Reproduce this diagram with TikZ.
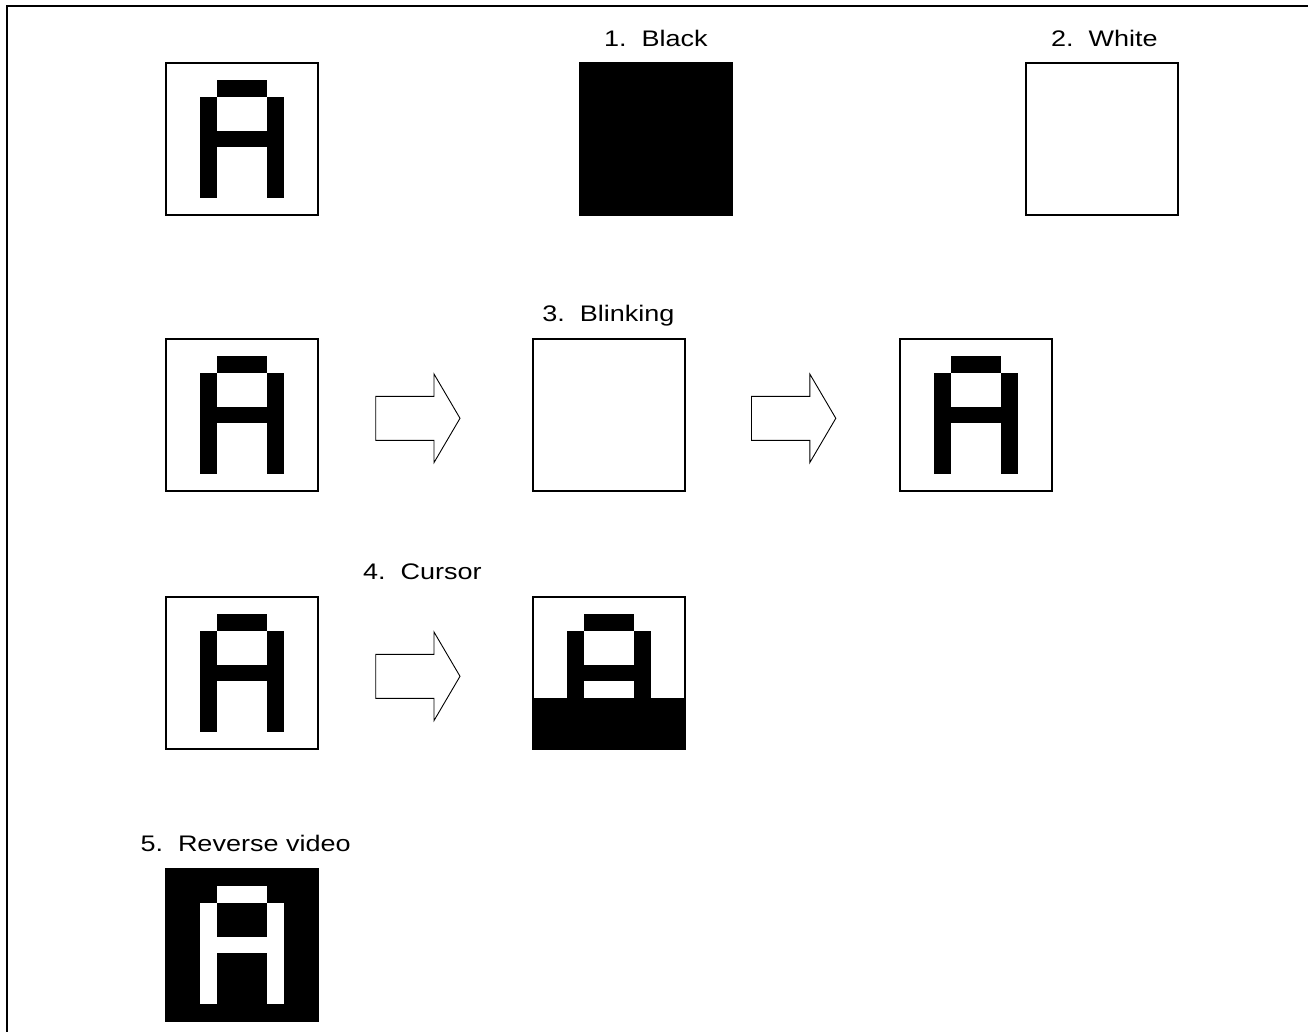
\documentclass[tikz,border=0pt]{standalone}
\usepackage{fontspec}
\newfontfamily\lab[FakeStretch=1.2]{Liberation Sans}
\begin{document}
\begin{tikzpicture}[x=1pt,y=-1pt,
  screen/.style={draw=black,line width=1.4pt,fill=white,minimum size=152pt,inner sep=0pt,outer sep=0pt},
  blackscreen/.style={screen,fill=black},
  label/.style={anchor=base west,inner sep=0pt,font=\lab\fontsize{22.5}{27}\selectfont},
  blockarrow/.style={draw=black,line width=0.9pt,fill=white,line join=miter}]
\useasboundingbox (0,0) rectangle (1308,1032);
\def\px{16.89}
% glyph A drawn in the 9x9 pixel grid of a screen node
\newcommand\glyphA[2]{%
  \begin{scope}[shift={(#1.north west)}]
    \fill[#2] (3*\px,1*\px) rectangle (6*\px,2*\px);
    \fill[#2] (2*\px,2*\px) rectangle (3*\px,8*\px);
    \fill[#2] (6*\px,2*\px) rectangle (7*\px,8*\px);
    \fill[#2] (3*\px,4*\px) rectangle (6*\px,5*\px);
  \end{scope}}
\newcommand\barrow[1]{%
  \draw[blockarrow] ([yshift=22pt]#1) -- ++(58.3,0) -- ++(0,-22.3) -- ++(26,44.3)
     -- ++(-26,44.3) -- ++(0,-22.3) -- ++(-58.3,0) -- cycle;}
% frame
\draw[line width=1.3pt] (7,1032) -- (7,6) -- (1308,6);
% row 1
\node[screen] (a1) at (242,139) {};
\glyphA{a1}{black}
\node[blackscreen] (blk) at (656,139) {};
\node[screen] (wht) at (1102,139) {};
\node[label] (t1) at (603.8,46.7) {1.~~Black};
\node[label] (t2) at (1050.9,46.7) {2.~~White};
% row 2
\node[screen] (a2) at (242,415) {};
\glyphA{a2}{black}
\node[screen] (blink) at (609,415) {};
\node[screen] (a3) at (976,415) {};
\glyphA{a3}{black}
\coordinate (ar1) at (375.7,418.3);
\coordinate (ar2) at (751.5,418.3);
\barrow{ar1}
\barrow{ar2}
\node[label] (t3) at (542.2,321) {3.~~Blinking};
% row 3
\node[screen] (a4) at (242,673) {};
\glyphA{a4}{black}
\node[screen] (cur) at (609,673) {};
\glyphA{cur}{black}
\fill[black] ([yshift=-6*\px pt]cur.north west) rectangle (cur.south east);
\draw[line width=1.4pt] (cur.north west) rectangle (cur.south east);
\coordinate (ar3) at (375.7,676.3);
\barrow{ar3}
\node[label] (t4) at (363,579) {4.~~Cursor};
% row 4
\node[blackscreen] (rev) at (242,945) {};
\glyphA{rev}{white}
\node[label] (t5) at (140.3,851.7) {5.~~Reverse video};
\end{tikzpicture}
\end{document}
